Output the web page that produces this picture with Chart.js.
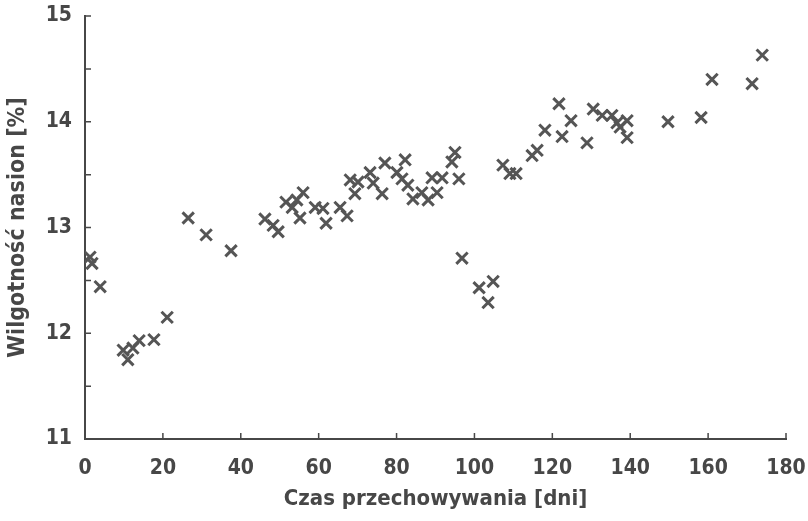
<!DOCTYPE html>
<html>
<head>
<meta charset="utf-8">
<script src="https://cdn.jsdelivr.net/npm/chart.js@4"></script>
<style>
  html, body { margin: 0; padding: 0; background: #fff; }
  #wrap { width: 808px; height: 521px; }
</style>
</head>
<body>
<div id="wrap"><canvas id="chart" width="808" height="521"></canvas></div>
<script>
// storage time [days]
const days = [1.3, 1.8, 3.9, 9.8, 11.0, 12.3, 13.9, 17.7, 21.1, 26.5, 31.1, 37.5,
  46.2, 48.3, 49.6, 51.6, 53.2, 54.4, 56.0, 55.2, 59.1, 61.1, 61.9, 65.5, 67.3,
  68.1, 69.3, 70.1, 73.2, 74.0, 76.3, 77.0, 80.1, 81.4, 82.2, 82.9, 84.2, 86.5,
  88.1, 89.1, 90.4, 91.7, 94.2, 95.0, 96.0, 96.8, 101.2, 104.8, 103.5, 107.3,
  109.1, 110.7, 114.8, 116.1, 118.1, 121.7, 122.5, 124.8, 128.9, 130.5, 132.8,
  135.3, 136.6, 137.4, 139.2, 139.2, 149.7, 158.2, 161.0, 171.3, 173.9];
// seed moisture [%]
const moisture = [12.72, 12.66, 12.44, 11.84, 11.75, 11.86, 11.93, 11.94, 12.15, 13.09, 12.93, 12.78,
  13.08, 13.02, 12.96, 13.24, 13.19, 13.26, 13.33, 13.09, 13.19, 13.18, 13.04, 13.19, 13.11,
  13.45, 13.32, 13.43, 13.52, 13.42, 13.32, 13.61, 13.52, 13.46, 13.64, 13.40, 13.27, 13.33,
  13.26, 13.47, 13.33, 13.47, 13.62, 13.71, 13.46, 12.71, 12.43, 12.49, 12.29, 13.59,
  13.51, 13.51, 13.68, 13.73, 13.92, 14.17, 13.86, 14.01, 13.80, 14.12, 14.06,
  14.06, 13.99, 13.95, 14.01, 13.85, 14.00, 14.04, 14.40, 14.36, 14.63];

const xTicks = [0, 20, 40, 60, 80, 100, 120, 140, 160, 180];
const yTicks = [11, 12, 13, 14, 15];
const yMinorTicks = [11.5, 12, 12.5, 13, 13.5, 14, 14.5, 15];

const xTitle = 'Czas przechowywania [dni]';
const yTitle = 'Wilgotność nasion [%]';

const ink = '#474747';
const fontFam = "'DejaVu Sans Condensed', 'Liberation Sans', sans-serif";

// small ticks pointing into the plot, like the printed figure
const innerTicks = {
  id: 'innerTicks',
  afterDraw(chart) {
    const { ctx, chartArea, scales } = chart;
    ctx.save();
    ctx.strokeStyle = ink;
    ctx.lineWidth = 1.5;
    ctx.beginPath();
    xTicks.slice(1).forEach(v => {
      const px = scales.x.getPixelForValue(v);
      ctx.moveTo(px, chartArea.bottom);
      ctx.lineTo(px, chartArea.bottom - 6);
    });
    yMinorTicks.forEach(v => {
      const py = scales.y.getPixelForValue(v);
      ctx.moveTo(chartArea.left, py);
      ctx.lineTo(chartArea.left + 6, py);
    });
    ctx.stroke();
    ctx.restore();
  }
};

new Chart(document.getElementById('chart'), {
  type: 'scatter',
  data: {
    datasets: [{
      data: days.map((d, i) => ({ x: d, y: moisture[i] })),
      pointStyle: 'crossRot',
      pointRadius: 8,
      pointBorderWidth: 3,
      borderColor: '#555',
      backgroundColor: '#555'
    }]
  },
  options: {
    responsive: false,
    animation: false,
    layout: { padding: { top: 16, right: 22, left: 0, bottom: 0 } },
    plugins: { legend: { display: false }, tooltip: { enabled: false } },
    scales: {
      x: {
        type: 'linear',
        min: 0, max: 180,
        afterBuildTicks: s => { s.ticks = xTicks.map(v => ({ value: v })); },
        afterFit: s => { s.height = 82; s.paddingLeft = 0; s.paddingRight = 0; },
        grid: { display: false, drawTicks: false },
        border: { color: ink, width: 2 },
        ticks: { color: ink, padding: 17, font: { family: fontFam, size: 21, weight: 'bold' } },
        title: {
          display: true, text: xTitle, color: ink,
          padding: { top: 4, bottom: 9 },
          font: { family: fontFam, size: 22, weight: 'bold' }
        }
      },
      y: {
        type: 'linear',
        min: 11, max: 15,
        afterBuildTicks: s => { s.ticks = yTicks.map(v => ({ value: v })); },
        afterFit: s => { s.width = 85; s.paddingTop = 0; s.paddingBottom = 0; },
        grid: { display: false, drawTicks: false },
        border: { color: ink, width: 2 },
        ticks: { color: ink, padding: 13, font: { family: fontFam, size: 21, weight: 'bold' } },
        title: {
          display: true, text: yTitle, color: ink,
          padding: { top: 4, bottom: 4 },
          font: { family: fontFam, size: 23, weight: 'bold' }
        }
      }
    }
  },
  plugins: [innerTicks]
});
</script>
</body>
</html>
